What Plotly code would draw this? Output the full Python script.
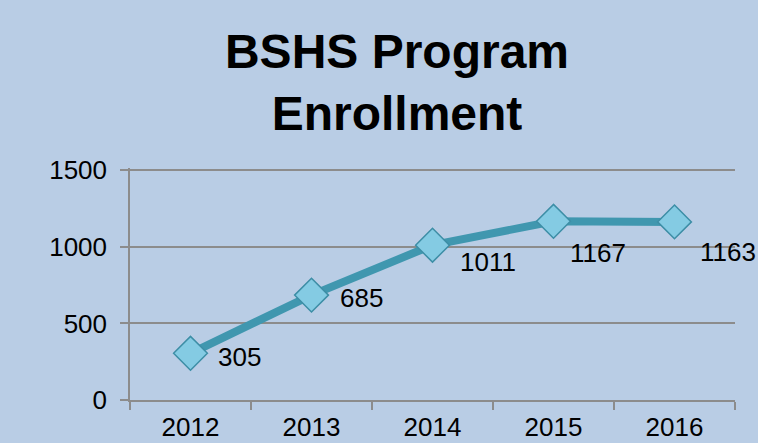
import plotly.graph_objects as go

years = ["2012", "2013", "2014", "2015", "2016"]
enrollment = [305, 685, 1011, 1167, 1163]
label_dx = [49, 50, 55, 44, 53]
label_dy = [-4, -3, -17, -32, -30]
y_ticks = [0, 500, 1000, 1500]

BG = "#B9CDE5"
GRID = "#8C8C8C"
FONT = "Liberation Sans, Arial, sans-serif"

fig = go.Figure()
fig.add_trace(go.Scatter(
    x=years, y=enrollment, mode="lines+markers",
    line=dict(color="#4097AF", width=8),
    marker=dict(symbol="diamond", size=26, color="#84CBE3",
                line=dict(color="#3D8EA6", width=1.5)),
    hoverinfo="x+y", showlegend=False,
))

# annotation x on a category axis uses the category's serial index
for i, (y, dx, dy) in enumerate(zip(enrollment, label_dx, label_dy)):
    fig.add_annotation(x=i, y=y, text=str(y), showarrow=False,
                       xshift=dx, yshift=dy,
                       font=dict(family=FONT, size=26, color="#000000"))

fig.update_layout(
    width=758, height=443,
    paper_bgcolor=BG, plot_bgcolor=BG,
    margin=dict(l=130, r=23, t=168, b=43, autoexpand=False),
    title=dict(text="<b>BSHS Program<br>Enrollment</b>",
               x=397 / 758, xanchor="center", xref="container",
               y=1 - 68 / 443, yanchor="top", yref="container",
               font=dict(family=FONT, size=48, color="#000000")),
    font=dict(family=FONT, size=26, color="#000000"),
)
fig.update_xaxes(
    type="category", categoryorder="array", categoryarray=years,
    range=[-0.5, len(years) - 0.5], autorange=False, automargin=False,
    showgrid=False, showline=True, linecolor=GRID, linewidth=1.5,
    ticks="outside", tickson="boundaries", ticklen=8, tickcolor=GRID, tickwidth=1.5,
    tickfont=dict(family=FONT, size=26, color="#000000"), ticklabelstandoff=3,
    tickangle=0, zeroline=False,
)
fig.update_yaxes(
    range=[0, 1515], autorange=False, automargin=False, tickvals=y_ticks,
    showgrid=True, gridcolor=GRID, gridwidth=1.5,
    showline=True, linecolor=GRID, linewidth=1.5,
    ticks="outside", ticklen=8, tickcolor=GRID, tickwidth=1.5,
    tickfont=dict(family=FONT, size=26, color="#000000"), ticklabelstandoff=8,
    zeroline=False,
)

fig.write_html("out.html", config={"displayModeBar": False},
               post_script="document.body.style.margin='0';")
